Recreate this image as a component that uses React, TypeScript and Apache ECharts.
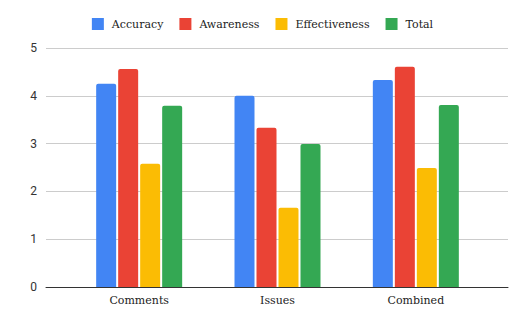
import React, { useEffect, useRef } from "react";
import * as echarts from "echarts";

const categories = ["Comments", "Issues", "Combined"];
const seriesNames = ["Accuracy", "Awareness", "Effectiveness", "Total"];
const accuracy = [4.25, 4.0, 4.33];
const awareness = [4.56, 3.33, 4.61];
const effectiveness = [2.58, 1.66, 2.49];
const total = [3.79, 2.99, 3.81];
const colors = ["#4285F4", "#EA4335", "#FBBC04", "#34A853"];
const yTicks = [0, 1, 2, 3, 4, 5];

export default function App() {
  const ref = useRef<HTMLDivElement>(null);
  useEffect(() => {
    if (!ref.current) return;
    const chart = echarts.init(ref.current, null, { renderer: "svg" });
    const values = [accuracy, awareness, effectiveness, total];
    chart.setOption({
      animation: false,
      color: colors,
      legend: {
        top: 13,
        left: "center",
        itemWidth: 12,
        itemHeight: 12,
        itemGap: 16,
        icon: "rect",
        data: seriesNames,
        textStyle: { fontFamily: "DejaVu Serif", fontSize: 11, color: "#222", padding: [0, 0, 0, 3] },
      },
      grid: [
        { left: 46, right: 17, top: 48, bottom: 37 },
        { left: 70, right: 40, top: 48, bottom: 37 },
      ],
      xAxis: [
        {
          gridIndex: 0,
          type: "value",
          min: 0,
          max: 1,
          axisLine: { show: true, onZero: false, lineStyle: { color: "#333", width: 1 } },
          axisTick: { show: false },
          axisLabel: { show: false },
          splitLine: { show: false },
        },
        {
          gridIndex: 1,
          type: "category",
          data: categories,
          axisLine: { show: false },
          axisTick: { show: false },
          axisLabel: { margin: 8, fontFamily: "DejaVu Serif", fontSize: 11, color: "#222" },
        },
      ],
      yAxis: [
        {
          gridIndex: 0,
          type: "value",
          min: 0,
          max: 5,
          interval: 1,
          axisLine: { show: false },
          axisTick: { show: false },
          axisLabel: { margin: 9, fontFamily: "Roboto", fontSize: 12, color: "#333", formatter: (v: number) => (yTicks.includes(v) ? String(v) : "") },
          splitLine: { lineStyle: { color: "#cccccc", width: 1 } },
        },
        {
          gridIndex: 1,
          type: "value",
          min: 0,
          max: 5,
          interval: 1,
          show: false,
        },
      ],
      series: seriesNames.map((name, i) => ({
        name,
        type: "bar",
        xAxisIndex: 1,
        yAxisIndex: 1,
        data: values[i],
        barWidth: 20,
        barGap: "10%",
        itemStyle: { color: colors[i], borderRadius: [2, 2, 0, 0] },
      })),
    });
    return () => chart.dispose();
  }, []);
  return <div ref={ref} style={{ width: 525, height: 324, position: "absolute", left: 0, top: 0 }} />;
}
